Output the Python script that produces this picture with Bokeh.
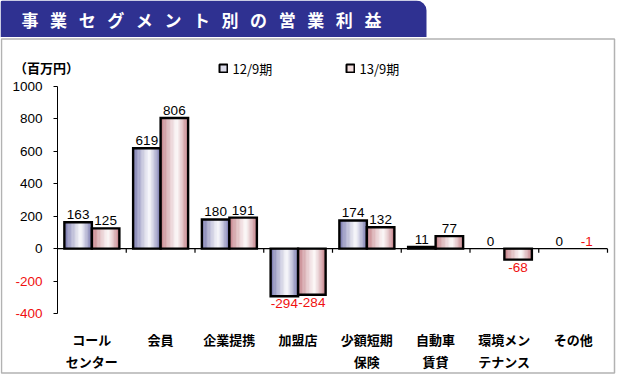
import numpy as np
from bokeh.plotting import figure
from bokeh.models import (ColumnDataSource, Range1d, FixedTicker, Label,
                          BoxAnnotation, Legend, LegendItem, LinearAxis)
from bokeh.core.properties import value
from bokeh.embed import file_html
from bokeh.resources import INLINE

# ---------------- data ----------------
title_text = "事業セグメント別の営業利益"
unit_text = "（百万円）"
categories = ["コール\nセンター", "会員", "企業提携", "加盟店", "少額短期\n保険",
              "自動車\n賃貸", "環境メン\nテナンス", "その他"]
series_names = ["12/9期", "13/9期"]
fy12 = [163, 619, 180, -294, 174, 11, 0, 0]
fy13 = [125, 806, 191, -284, 132, 77, -68, -1]
y_ticks = [-400, -200, 0, 200, 400, 600, 800, 1000]

# ---------------- layout / style ----------------
W, H = 617, 375
# plotting area (where the axes sit) inside the canvas, in canvas pixels
PL, PR, PT, PB = 57, 607, 86, 313
JP = "Noto Sans CJK JP"
NUM = "Liberation Sans"
NEG = "#f01010"
BANNER = "#2f3191"
edge_rgb = [(116, 116, 172), (194, 124, 132)]
legend_rgb = ["#dcdcea", "#f2dede"]

ncat = len(categories)
ux = (PR - PL) / ncat                          # px per category
uy = (y_ticks[-1] - y_ticks[0]) / (PB - PT)    # data units per px
x_range = Range1d(-PL / ux, ncat + (W - PR) / ux)
y_range = Range1d(y_ticks[0] - (H - PB) * uy, y_ticks[-1] + PT * uy)


def sx(X):  # canvas x -> screen x (frame == canvas)
    return X


def sy(Y):  # canvas y (down) -> screen y (up)
    return H - Y


p = figure(width=W, height=H, x_range=x_range, y_range=y_range,
           output_backend="svg", toolbar_location=None,
           x_axis_location=None, y_axis_location=None,
           min_border=0, min_border_left=0, min_border_right=0,
           min_border_top=0, min_border_bottom=0)
p.title.visible = False
p.outline_line_color = None
p.background_fill_color = "white"
p.border_fill_color = "white"
p.xgrid.visible = False
p.ygrid.visible = False

# ---------------- frame box and title banner ----------------
p.add_layout(BoxAnnotation(left=sx(1), right=sx(614), top=sy(38.5), bottom=sy(372.5),
                           left_units="screen", right_units="screen",
                           top_units="screen", bottom_units="screen",
                           fill_alpha=0, line_color="black", line_width=1.5,
                           level="underlay"))
p.add_layout(BoxAnnotation(left=sx(0), right=sx(426), top=sy(0), bottom=sy(36.5),
                           left_units="screen", right_units="screen",
                           top_units="screen", bottom_units="screen",
                           fill_color=BANNER, fill_alpha=1, line_color=None,
                           border_radius=(2, 10, 0, 0), level="underlay"))
p.add_layout(Label(x=sx(21), y=sy(18.5), x_units="screen", y_units="screen",
                   text="\u00a0\u00a0\u00a0".join(title_text), text_align="left",
                   text_baseline="middle", text_color="white", text_font=JP,
                   text_font_style="bold", text_font_size="17px"))
p.add_layout(Label(x=sx(13.5), y=sy(67), x_units="screen", y_units="screen",
                   text=unit_text, text_align="left", text_baseline="middle",
                   text_color="black", text_font=JP, text_font_style="bold",
                   text_font_size="13px"))

# ---------------- bars (gradient strips) ----------------
BAR_W = 0.4
offsets = [-BAR_W / 2, BAR_W / 2]
NS = 20


def shade(rgb, t):
    peak = 0.6
    d = (peak - t) / peak if t < peak else (t - peak) / (1 - peak)
    m = 0.04 + 0.96 * d ** 1.1
    return "#%02x%02x%02x" % tuple(int(round(255 + (c - 255) * m)) for c in rgb)


for s, vals in enumerate([fy12, fy13]):
    xs, tops, cols = [], [], []
    ox, ot = [], []
    for i, v in enumerate(vals):
        if abs(v) / uy < 1:      # less than a pixel tall: not drawn
            continue
        cx = i + 0.5 + offsets[s]
        ox.append(cx)
        ot.append(v)
        for k in range(NS):
            t = (k + 0.5) / NS
            xs.append(cx + (t - 0.5) * BAR_W)
            tops.append(v)
            cols.append(shade(edge_rgb[s], t))
    p.vbar(x=xs, top=tops, bottom=0, width=BAR_W / NS * 1.02, fill_color=cols,
           line_color=cols, line_width=0.4)
    p.vbar(x=ox, top=ot, bottom=0, width=BAR_W, fill_alpha=0,
           line_color="black", line_width=2.4, line_join="miter")

# zero line with category ticks
p.segment(x0=[0], x1=[ncat], y0=[0], y1=[0], line_color="black", line_width=1.2)
tick_len = 4 * uy
bx = list(range(1, ncat + 1))
p.segment(x0=bx, x1=bx, y0=[0] * len(bx), y1=[-tick_len] * len(bx),
          line_color="black", line_width=1.2)

# ---------------- value labels ----------------
for s, vals in enumerate([fy12, fy13]):
    up = dict(x=[], y=[], text=[], color=[])
    dn = dict(x=[], y=[], text=[], color=[])
    for i, v in enumerate(vals):
        below = v < 0 and abs(v) / uy >= 1
        d = dn if below else up
        d["x"].append(i + 0.5 + offsets[s])
        d["y"].append(v if below else max(v, 0))
        d["text"].append(str(v))
        d["color"].append(NEG if v < 0 else "black")
    p.text(x="x", y="y", text="text", text_color="color", source=ColumnDataSource(up),
           text_align="center", text_baseline="bottom", y_offset=-3,
           text_font=value(NUM), text_font_size="13.5px")
    p.text(x="x", y="y", text="text", text_color="color", source=ColumnDataSource(dn),
           text_align="center", text_baseline="top", y_offset=3,
           text_font=value(NUM), text_font_size="13.5px")

# ---------------- axes ----------------
ya = LinearAxis(fixed_location=0, bounds=(y_ticks[0], y_ticks[-1]),
                ticker=FixedTicker(ticks=y_ticks))
ya.major_label_overrides = {t: "" for t in y_ticks if t < 0}
ya.major_tick_out = 4
ya.major_tick_in = 0
ya.minor_tick_line_color = None
ya.axis_line_color = "black"
ya.major_tick_line_color = "black"
ya.major_label_standoff = 11
ya.major_label_text_font = NUM
ya.major_label_text_font_size = "13.5px"
ya.major_label_text_color = "black"
p.add_layout(ya, "left")
for t in y_ticks:
    if t < 0:
        p.add_layout(Label(x=0, y=t, x_units="data", y_units="data", x_offset=-15,
                           text=str(t), text_align="right", text_baseline="middle",
                           text_color=NEG, text_font=NUM, text_font_size="13.5px"))

centers = [i + 0.5 for i in range(ncat)]
xa = LinearAxis(fixed_location=y_ticks[0], ticker=FixedTicker(ticks=centers))
xa.major_label_overrides = {c: lab for c, lab in zip(centers, categories)}
xa.axis_line_color = None
xa.major_tick_line_color = None
xa.minor_tick_line_color = None
xa.major_label_standoff = 10
xa.major_label_text_font = JP
xa.major_label_text_font_style = "bold"
xa.major_label_text_font_size = "13px"
xa.major_label_text_line_height = 1.2
xa.major_label_text_color = "black"
p.add_layout(xa, "below")

# ---------------- legend ----------------
nan = float("nan")
dummies = [p.vbar(x=[nan], top=[nan], bottom=[nan], width=1, fill_color=legend_rgb[s],
                  line_color="black", line_width=2) for s in range(2)]
legend = Legend(items=[LegendItem(label=series_names[s], renderers=[dummies[s]])
                       for s in range(2)],
                orientation="horizontal", location=(sx(217.5), sy(59.5) - 18),
                glyph_width=10, glyph_height=10, label_standoff=5, label_width=104,
                spacing=8, padding=0, margin=0, border_line_color=None,
                background_fill_alpha=0, label_text_font=JP,
                label_text_font_size="13px", label_text_color="black")
p.add_layout(legend)

open("out.html", "w").write(file_html(p, INLINE))
